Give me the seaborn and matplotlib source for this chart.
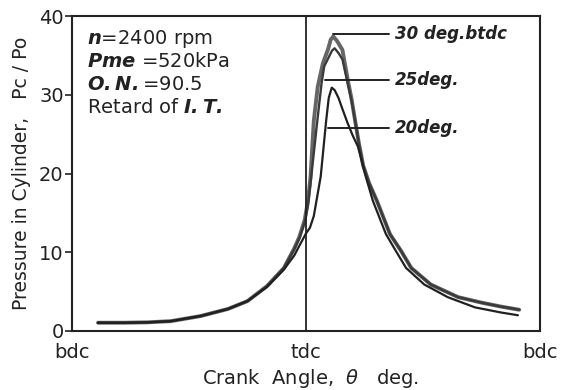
import numpy as np
import pandas as pd
import matplotlib
matplotlib.use("Agg")
import matplotlib.pyplot as plt
import seaborn as sns

# ---- data (crank angle in deg from tdc, pressure ratio Pc/Po) ----
angle_30 = [-160, -140, -122, -104, -81, -60, -45, -30, -17, -9, -5, -1, 1.5, 3.5, 6, 9, 13,
            17, 19, 21, 24, 28, 32, 35, 38.5, 40.5, 44, 48.5, 54.6, 64.6, 73, 81, 96, 117, 135, 150, 164]
p_30 = [1.05, 1.05, 1.1, 1.25, 1.9, 2.8, 3.8, 5.7, 8.0, 10.5, 12.0, 14.1, 16.5, 19.6, 26.7, 31.0, 34.0,
        35.8, 37.0, 37.4, 36.8, 35.7, 32.0, 29.5, 26.0, 24.0, 21.0, 18.8, 16.5, 12.3, 10.2, 8.0, 5.9, 4.3, 3.6, 3.1, 2.7]

angle_25 = [-160, -140, -122, -104, -81, -60, -45, -30, -17, -9, -5, -1, 1.5, 3.5, 8.7, 12, 14,
            17, 20, 22, 25, 28, 32, 35, 38.5, 40.5, 44, 48.5, 54.6, 64.6, 73, 81, 96, 117, 135, 150, 164]
p_25 = [1.05, 1.05, 1.1, 1.25, 1.9, 2.8, 3.8, 5.7, 8.0, 10.4, 11.8, 13.8, 16.0, 18.8, 26.7, 31.5, 33.6,
        34.6, 35.6, 35.9, 35.3, 34.5, 31.5, 29.3, 26.0, 24.0, 21.0, 18.8, 16.5, 12.3, 10.2, 8.0, 5.9, 4.3, 3.6, 3.1, 2.7]

angle_20 = [-160, -140, -122, -104, -81, -60, -45, -30, -17, -9, -5.5, 0, 3, 6, 11.3, 15.5, 17.5, 19.8,
            22, 25, 28, 32, 36, 40, 46, 51.5, 61.5, 69, 77, 91, 109, 130, 150, 163]
p_20 = [1.05, 1.05, 1.1, 1.25, 1.9, 2.8, 3.8, 5.6, 7.8, 9.6, 10.7, 12.4, 13.1, 14.6, 19.6, 26.7, 29.6, 30.9,
        30.6, 29.6, 28.2, 26.4, 24.8, 23.4, 19.6, 16.5, 12.3, 10.2, 8.0, 5.9, 4.3, 3.0, 2.35, 2.0]

series_names = ["30 deg.btdc", "25deg.", "20deg."]
x_tick_pos = [-180, 0, 180]
x_tick_labels = ["bdc", "tdc", "bdc"]
y_ticks = [0, 10, 20, 30, 40]

df = pd.concat([
    pd.DataFrame({"angle": angle_30, "p": p_30, "timing": series_names[0]}),
    pd.DataFrame({"angle": angle_25, "p": p_25, "timing": series_names[1]}),
    pd.DataFrame({"angle": angle_20, "p": p_20, "timing": series_names[2]}),
], ignore_index=True)

sns.set_style("ticks")
plt.rcParams["font.family"] = ["DejaVu Sans"]
plt.rcParams["mathtext.fontset"] = "dejavusans"

fig = plt.figure(figsize=(5.66, 3.90), dpi=100)
ax = fig.add_axes([72 / 566, (390 - 331) / 390, (540 - 72) / 566, (331 - 16) / 390])

ink = "#222222"
palette = {series_names[0]: "#666666", series_names[1]: "#3a3a3a", series_names[2]: "#202020"}
sizes = {series_names[0]: 2.8, series_names[1]: 1.7, series_names[2]: 1.6}
sns.lineplot(data=df, x="angle", y="p", hue="timing", size="timing", sizes=sizes,
             palette=palette, sort=False, estimator=None, legend=False, ax=ax)

ax.set_xlim(-180, 180)
ax.set_ylim(0, 40)
ax.axvline(0, color=ink, lw=1.3)

ax.set_xticks(x_tick_pos)
ax.set_xticklabels(x_tick_labels)
ax.set_yticks(y_ticks)
ax.tick_params(axis="x", length=0, pad=9, labelsize=14, colors=ink)
ax.tick_params(axis="y", length=5, width=1.2, pad=1, labelsize=14, colors=ink, direction="out")
for s in ax.spines.values():
    s.set_visible(True)
    s.set_color(ink)
    s.set_linewidth(1.5)

ax.set_xlabel("Crank  Angle,  $\\theta$   deg.", fontsize=14, color=ink)
ax.xaxis.set_label_coords(0.51, -0.115)
ax.set_ylabel("Pressure in Cylinder,   Pc / Po", fontsize=13.5, color=ink, labelpad=6)

# condition box
tx = -168.5
info = [r"$\mathbfit{n}$=2400 rpm",
        r"$\mathbfit{Pme}$ =520kPa",
        r"$\mathbfit{O.N.}$=90.5",
        r"Retard of $\mathbfit{I.T.}$"]
for i, t in enumerate(info):
    ax.text(tx, 37.1 - i * 2.92, t, fontsize=14, color=ink, va="center", ha="left")

# curve labels with leader lines
lab_x = 68.5
lab = [(series_names[0], 37.7, 21), (series_names[1], 31.9, 14.6), (series_names[2], 25.8, 17)]
for name, yv, x0 in lab:
    ax.plot([x0, 63.5], [yv, yv], color=ink, lw=1.4)
    ax.text(lab_x, yv, name, fontsize=12, fontweight="bold", fontstyle="italic",
            color=ink, va="center", ha="left")

fig.savefig("out.png", dpi=100)
